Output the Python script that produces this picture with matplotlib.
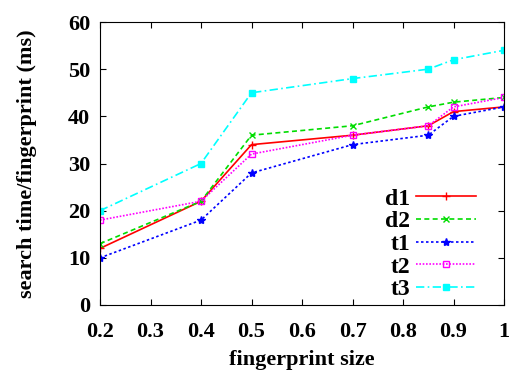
import matplotlib
matplotlib.use("Agg")
import matplotlib.pyplot as plt

x = [0.2, 0.4, 0.5, 0.7, 0.85, 0.9, 1.0]
d1 = [12, 22, 34, 36, 38, 41, 42]
d2 = [13, 22, 36, 38, 42, 43, 44]
t1 = [10, 18, 28, 34, 36, 40, 42]
t2 = [18, 22, 32, 36, 38, 42, 44]
t3 = [20, 30, 45, 48, 50, 52, 54]

plt.rcParams["font.family"] = "Liberation Serif"
plt.rcParams["font.weight"] = "bold"

fig = plt.figure(figsize=(5.15, 3.75), dpi=100)
ax = fig.add_axes([100 / 515, 70 / 375, 404 / 515, 283 / 375])

ax.plot(x, d1, color="red", ls="-", lw=1.2, marker="+", ms=6, label="d1")
ax.plot(x, d2, color="#00dd00", ls=(0, (3, 2)), lw=1.2, marker="x", ms=5, label="d2")
ax.plot(x, t1, color="blue", ls=(0, (1.5, 1.5)), lw=1.2, marker="*", ms=6, label="t1")
ax.plot(x, t2, color="magenta", ls=(0, (1, 1)), lw=1.2, marker="s", ms=5,
        mfc="none", label="t2")
ax.plot(x, t3, color="cyan", ls=(0, (5, 2, 1, 2)), lw=1.2, marker="s", ms=5, label="t3")

ax.set_xlim(0.2, 1.0)
ax.set_ylim(0, 60)
ax.set_xticks([0.2, 0.3, 0.4, 0.5, 0.6, 0.7, 0.8, 0.9, 1.0])
ax.set_xticklabels(["0.2", "0.3", "0.4", "0.5", "0.6", "0.7", "0.8", "0.9", "1"])
ax.set_yticks(range(0, 61, 10))
ax.tick_params(direction="in", top=True, right=True, length=4, labelsize=16)
ax.tick_params(axis="x", pad=12)
ax.tick_params(axis="y", pad=7)
ax.set_xlabel("fingerprint size", fontsize=16, fontweight="bold", labelpad=6)
ax.set_ylabel("search time/fingerprint (ms)", fontsize=16, fontweight="bold", labelpad=22)

ax.legend(loc="lower right", bbox_to_anchor=(0.931, 0.016), frameon=False,
          markerfirst=False, handlelength=2.55, labelspacing=0.05,
          handletextpad=0.25, borderpad=0, borderaxespad=0,
          prop={"size": 17, "weight": "bold"})

fig.savefig("out.png", dpi=100)
